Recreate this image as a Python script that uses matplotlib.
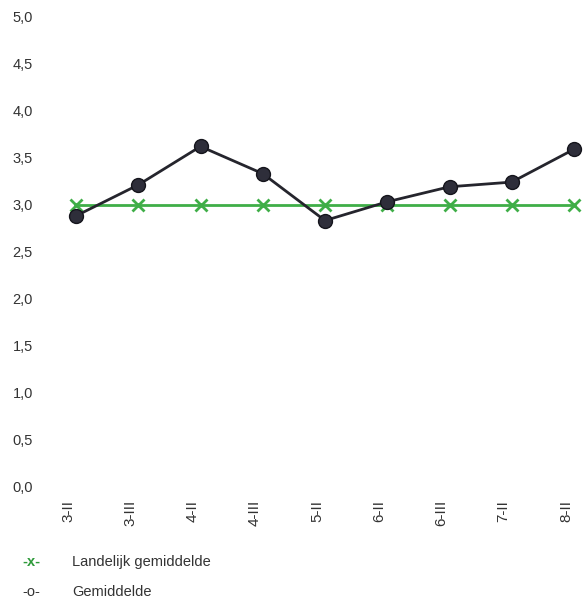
import matplotlib
matplotlib.use("Agg")
import matplotlib.pyplot as plt
import matplotlib.transforms as mtransforms

plt.rcParams["font.family"] = ["Liberation Sans", "DejaVu Sans"]

categories = ["3-II", "3-III", "4-II", "4-III", "5-II", "6-II", "6-III", "7-II", "8-II"]
landelijk = [3.0, 3.0, 3.0, 3.0, 3.0, 3.0, 3.0, 3.0, 3.0]
gemiddelde = [2.88, 3.21, 3.62, 3.33, 2.83, 3.03, 3.19, 3.24, 3.59]
yticks = [0.0, 0.5, 1.0, 1.5, 2.0, 2.5, 3.0, 3.5, 4.0, 4.5, 5.0]

fig = plt.figure(figsize=(5.85, 6.02), dpi=100)
ax = fig.add_axes([76 / 585, 116 / 602, 498 / 585, 469 / 602])

x = list(range(len(categories)))
ax.plot(x, landelijk, color="#3fae47", lw=2, marker="x", ms=9, mew=2,
        clip_on=False, zorder=2)
ax.plot(x, gemiddelde, color="#25252d", lw=2, marker="o", ms=10,
        mfc="#2e2e3a", mec="#15151c", clip_on=False, zorder=3)

ax.set_xlim(0, len(categories) - 1)
ax.set_ylim(0, 5)
ax.set_yticks(yticks)
ax.set_yticklabels([f"{v:.1f}".replace(".", ",") for v in yticks],
                   fontsize=10.5, color="#333333")
ax.set_xticks(x)
ax.set_xticklabels(categories, rotation=90, fontsize=11, color="#333333")
# pads are in points (1 px = 0.72 pt at 100 dpi)
ax.tick_params(axis="y", length=0, pad=31)
ax.tick_params(axis="x", length=0, pad=10)
offset = mtransforms.ScaledTranslation(-8 / 100, 0, fig.dpi_scale_trans)
for lbl in ax.get_xticklabels():
    lbl.set_transform(lbl.get_transform() + offset)
for s in ax.spines.values():
    s.set_visible(False)

fig.text(22 / 585, 1 - 562 / 602, "-x-", color="#2e9a3a", fontsize=10.5,
         fontweight="bold", va="center")
fig.text(72 / 585, 1 - 562 / 602, "Landelijk gemiddelde", color="#333333",
         fontsize=10.5, va="center")
fig.text(22 / 585, 1 - 592 / 602, "-o-", color="#333333", fontsize=10.5, va="center")
fig.text(72 / 585, 1 - 592 / 602, "Gemiddelde", color="#333333",
         fontsize=10.5, va="center")

fig.savefig("out.png", dpi=100)
